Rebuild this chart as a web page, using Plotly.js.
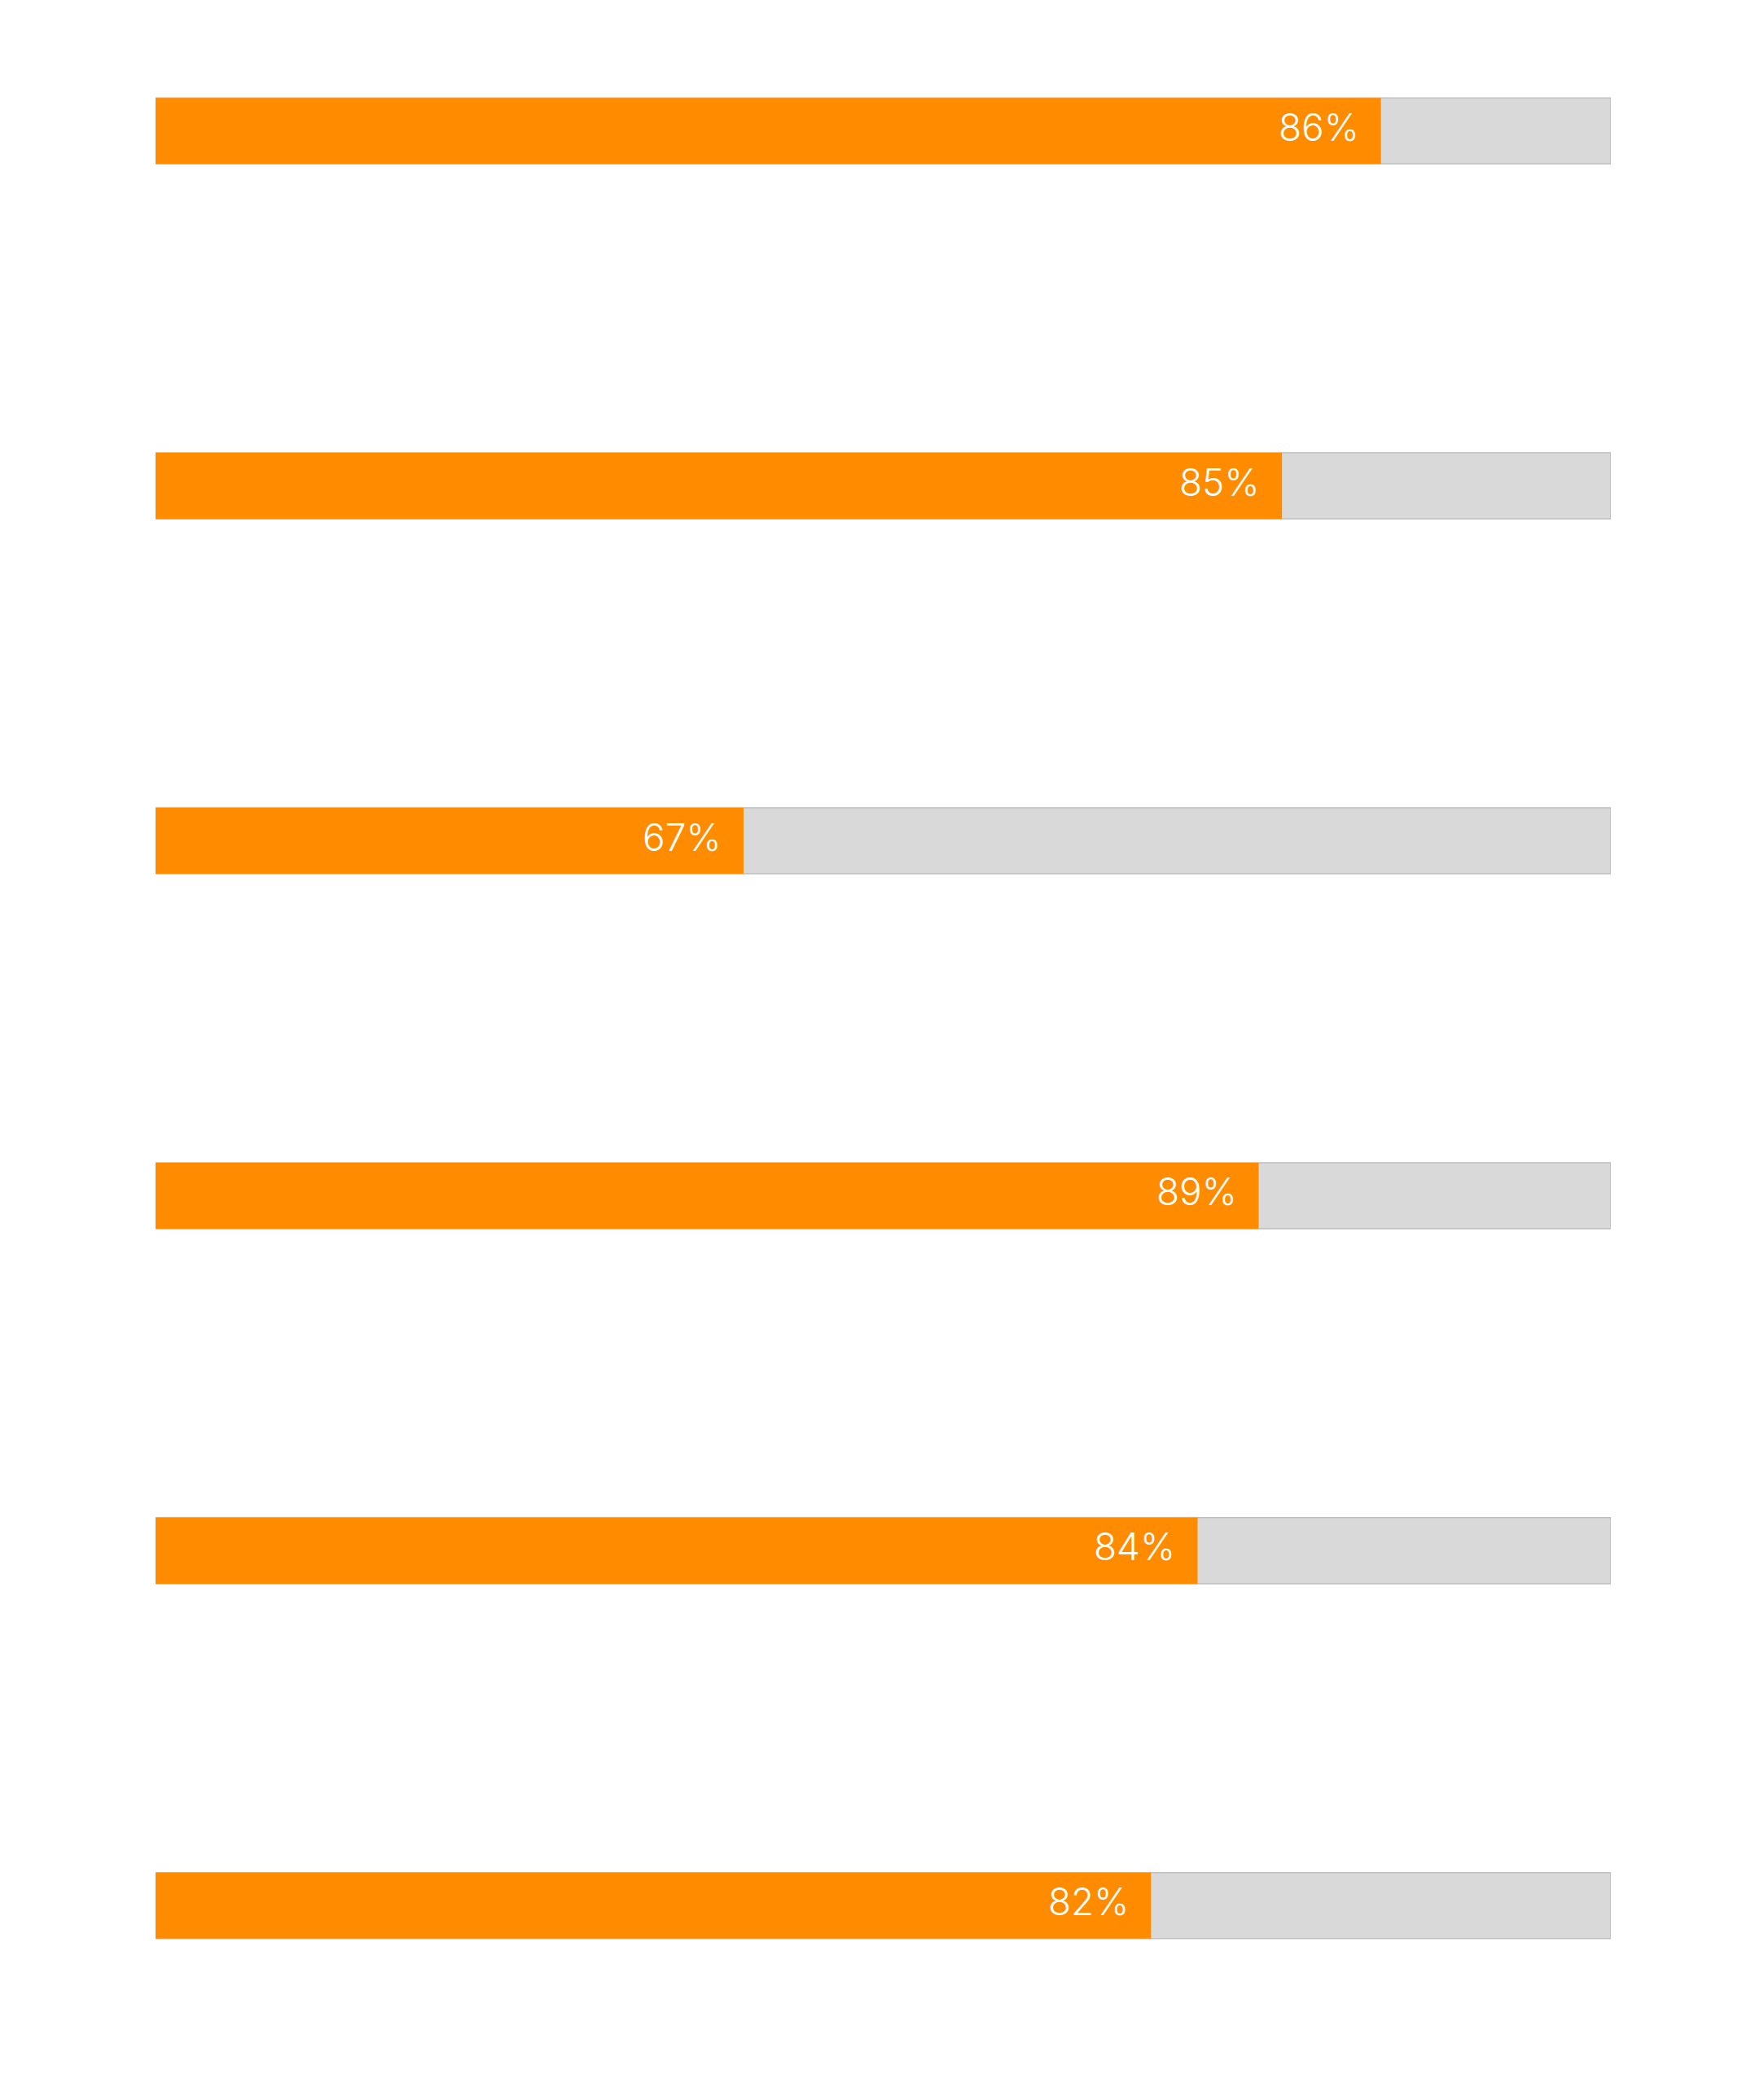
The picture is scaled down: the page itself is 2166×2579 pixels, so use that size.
<!DOCTYPE html>
<html>
<head>
<meta charset="utf-8">
<script src="https://cdn.plot.ly/plotly-3.0.1.min.js"></script>
<style>
  html, body { margin: 0; padding: 0; background: #ffffff; }
  #chart { width: 2166px; height: 2579px; }
</style>
</head>
<body>
<div id="chart"></div>
<script>
// Row positions (top to bottom)
const rows = [0, 1, 2, 3, 4, 5];
// Orange bar lengths as drawn (percent of full track)
const barValues = [84.2, 77.4, 40.4, 75.8, 71.6, 68.4];
// Label texts shown on the bars
const barLabels = ['86%', '85%', '67%', '89%', '84%', '82%'];
// Full track value
const trackValues = [100, 100, 100, 100, 100, 100];

const trackTrace = {
  type: 'bar',
  orientation: 'h',
  y: rows,
  x: trackValues,
  width: 0.186,
  marker: { color: '#d9d9d9', line: { color: '#bfbfbf', width: 1.5 } },
  hoverinfo: 'skip',
  showlegend: false
};

const valueTrace = {
  type: 'bar',
  orientation: 'h',
  y: rows,
  x: barValues,
  width: 0.186,
  marker: { color: '#ff8c00', line: { width: 0 } },
  hoverinfo: 'skip',
  showlegend: false
};

const annotations = rows.map((r, i) => ({
  x: barValues[i],
  y: r,
  xref: 'x',
  yref: 'y',
  text: barLabels[i],
  showarrow: false,
  xanchor: 'right',
  yanchor: 'middle',
  xshift: -25,
  yshift: 5,
  font: { family: 'Inter, Lato, sans-serif', size: 46, weight: 300, color: '#ffffff' }
}));

const layout = {
  width: 2166,
  height: 2579,
  margin: { l: 191, r: 188, t: 30, b: 108, pad: 0 },
  paper_bgcolor: '#ffffff',
  plot_bgcolor: '#ffffff',
  barmode: 'overlay',
  xaxis: {
    range: [0, 100],
    showgrid: false,
    zeroline: false,
    showline: false,
    showticklabels: false,
    ticks: '',
    fixedrange: true
  },
  yaxis: {
    range: [5.3, -0.3],
    showgrid: false,
    zeroline: false,
    showline: false,
    showticklabels: false,
    ticks: '',
    fixedrange: true
  },
  annotations: annotations
};

Plotly.newPlot('chart', [trackTrace, valueTrace], layout, { displayModeBar: false, staticPlot: true });
</script>
</body>
</html>
